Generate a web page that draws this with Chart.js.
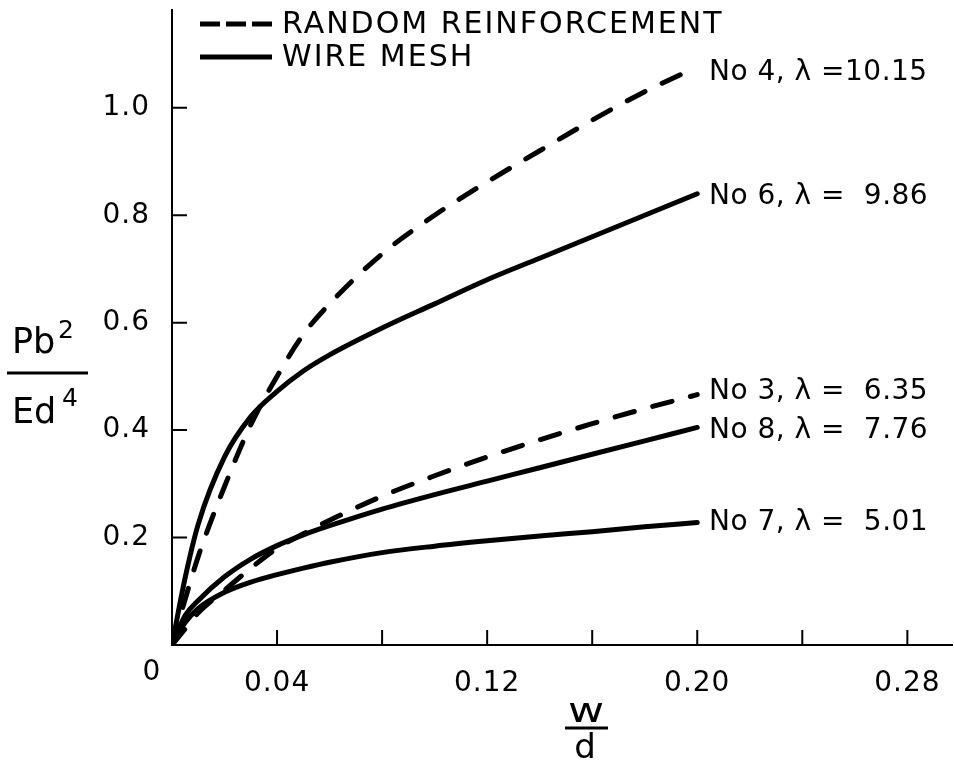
<!DOCTYPE html>
<html><head><meta charset="utf-8">
<script src="https://cdn.jsdelivr.net/npm/chart.js@4.4.1/dist/chart.umd.min.js"></script>
<style>html,body{margin:0;padding:0;background:#fff}#wrap{width:954px;height:773px}</style>
</head><body><div id="wrap"><canvas id="c" width="954" height="773"></canvas></div>
<script>
// w/d values shared by every curve
const wd  = [0, 0.005, 0.01, 0.02, 0.03, 0.04, 0.05, 0.06, 0.08, 0.10, 0.12, 0.14, 0.16, 0.18, 0.20];
// Pb^2/Ed^4 values
const no4 = [0, 0.085, 0.165, 0.295, 0.41, 0.50, 0.578, 0.635, 0.728, 0.80, 0.862, 0.92, 0.977, 1.03, 1.076];
const no6 = [0, 0.125, 0.225, 0.35, 0.425, 0.472, 0.51, 0.54, 0.59, 0.635, 0.68, 0.72, 0.76, 0.80, 0.84];
const no3 = [0, 0.03, 0.06, 0.102, 0.143, 0.18, 0.207, 0.232, 0.277, 0.315, 0.35, 0.382, 0.412, 0.44, 0.466];
const no8 = [0, 0.055, 0.083, 0.127, 0.16, 0.185, 0.205, 0.222, 0.253, 0.28, 0.305, 0.33, 0.355, 0.38, 0.405];
const no7 = [0, 0.042, 0.068, 0.098, 0.117, 0.131, 0.143, 0.154, 0.172, 0.184, 0.194, 0.203, 0.211, 0.22, 0.228];

const seriesNames  = ['No 4', 'No 6', 'No 3', 'No 8', 'No 7'];
const lambdaLabels = ['=10.15', '=  9.86', '=  6.35', '=  7.76', '=  5.01'];
const seriesKinds  = ['random', 'mesh', 'random', 'mesh', 'mesh'];
const legendLabels = ['RANDOM REINFORCEMENT', 'WIRE MESH'];
const xTickLabels  = ['0', '0.04', '0.12', '0.20', '0.28'];
const yTickLabels  = ['0.2', '0.4', '0.6', '0.8', '1.0'];

const seriesValues = [no4, no6, no3, no8, no7];
const FONT = '"DejaVu Sans", "Liberation Sans", sans-serif';
const DASH = [20, 19];

const datasets = seriesValues.map((vals, i) => ({
  label: seriesNames[i],
  data: wd.map((x, k) => ({x: x, y: vals[k]})),
  borderColor: '#000',
  borderWidth: 5,
  borderDash: seriesKinds[i] === 'random' ? DASH : [],
  borderCapStyle: 'round',
  borderJoinStyle: 'round',
  pointRadius: 0,
  fill: false,
  cubicInterpolationMode: 'monotone'
}));

const decor = {
  id: 'decor',
  beforeDraw(chart) {
    chart.ctx.letterSpacing = '1px';
  },
  afterDraw(chart) {
    const ctx = chart.ctx;
    const xs = chart.scales.x, ys = chart.scales.y;
    const ca = chart.chartArea;
    ctx.save();
    ctx.strokeStyle = '#000';
    ctx.fillStyle = '#000';
    // inward tick marks
    ctx.lineWidth = 2;
    ctx.beginPath();
    xs.ticks.forEach(t => {
      const r = t.value / 0.04;
      if (t.value > 0 && Math.abs(r - Math.round(r)) < 1e-6) {
        const p = xs.getPixelForValue(t.value);
        ctx.moveTo(p, ca.bottom); ctx.lineTo(p, ca.bottom - 15);
      }
    });
    ys.ticks.forEach(t => {
      if (yTickLabels.includes(t.value.toFixed(1)) && Math.abs(t.value - +t.value.toFixed(1)) < 1e-6) {
        const p = ys.getPixelForValue(t.value);
        ctx.moveTo(ca.left, p); ctx.lineTo(ca.left + 15, p);
      }
    });
    ctx.stroke();

    // origin label
    ctx.font = '28px ' + FONT;
    ctx.textAlign = 'center';
    ctx.textBaseline = 'top';
    ctx.fillText(xTickLabels[0], xs.getPixelForValue(0) - 20, ca.bottom + 14);

    // legend
    ctx.letterSpacing = '2px';
    ctx.font = '30px ' + FONT;
    ctx.textAlign = 'left';
    ctx.textBaseline = 'middle';
    const legY = [24, 57];
    ctx.lineWidth = 5;
    ctx.lineCap = 'butt';
    ctx.setLineDash([20, 6]);
    ctx.beginPath(); ctx.moveTo(200, legY[0]); ctx.lineTo(272, legY[0]); ctx.stroke();
    ctx.setLineDash([]);
    ctx.beginPath(); ctx.moveTo(200, legY[1]); ctx.lineTo(272, legY[1]); ctx.stroke();
    ctx.fillText(legendLabels[0], 282, legY[0] + 1);
    ctx.fillText(legendLabels[1], 282, legY[1] + 1);

    // curve labels
    ctx.letterSpacing = '0.5px';
    ctx.font = '28px ' + FONT;
    const offs = [6, 3, -3, 3, 0];
    seriesValues.forEach((vals, i) => {
      const y = ys.getPixelForValue(vals[vals.length - 1]) + offs[i];
      ctx.fillText(seriesNames[i] + ', \u03bb ' + lambdaLabels[i], 709, y);
    });

    // y axis title  Pb^2 / Ed^4
    ctx.letterSpacing = '0px';
    ctx.textBaseline = 'alphabetic';
    ctx.font = '35px ' + FONT;
    ctx.fillText('Pb', 12, 353);
    ctx.fillText('Ed', 12, 423);
    ctx.font = '25px ' + FONT;
    ctx.fillText('2', 58, 338);
    ctx.fillText('4', 62, 406);
    ctx.lineWidth = 3;
    ctx.beginPath(); ctx.moveTo(7, 373); ctx.lineTo(88, 373); ctx.stroke();

    // x axis title  w / d
    ctx.font = '34px ' + FONT;
    ctx.save();
    ctx.translate(586, 722);
    ctx.scale(1.3, 1);
    ctx.textAlign = 'center';
    ctx.fillText('w', 0, 0);
    ctx.restore();
    ctx.textAlign = 'center';
    ctx.fillText('d', 585, 758);
    ctx.beginPath(); ctx.moveTo(565, 728); ctx.lineTo(608, 728); ctx.stroke();
    ctx.restore();
  }
};

new Chart(document.getElementById('c'), {
  type: 'line',
  data: { datasets: datasets },
  options: {
    responsive: false,
    animation: false,
    devicePixelRatio: 1,
    layout: { padding: { top: 10, right: 2, left: 0, bottom: 0 } },
    plugins: { legend: { display: false }, tooltip: { enabled: false } },
    scales: {
      x: {
        type: 'linear', min: 0, max: 0.297,
        grid: { display: false },
        border: { display: true, color: '#000', width: 2 },
        afterFit: s => { s.height = 128; s.paddingLeft = 0; s.paddingRight = 0; },
        ticks: {
          stepSize: 0.04, includeBounds: false, autoSkip: false, maxRotation: 0, padding: 14,
          color: '#000', font: { family: FONT, size: 28 },
          callback: v => { const s = v.toFixed(2); return (v > 0 && xTickLabels.includes(s)) ? s : ''; }
        }
      },
      y: {
        type: 'linear', min: 0, max: 1.182,
        grid: { display: false },
        border: { display: true, color: '#000', width: 2 },
        afterFit: s => { s.width = 172; s.paddingTop = 0; s.paddingBottom = 0; },
        ticks: {
          stepSize: 0.2, includeBounds: false, autoSkip: false, padding: 14,
          color: '#000', font: { family: FONT, size: 28 },
          callback: v => { const s = v.toFixed(1); return (yTickLabels.includes(s) && Math.abs(v - +s) < 1e-6) ? s : ''; }
        }
      }
    }
  },
  plugins: [decor]
});
</script></body></html>
